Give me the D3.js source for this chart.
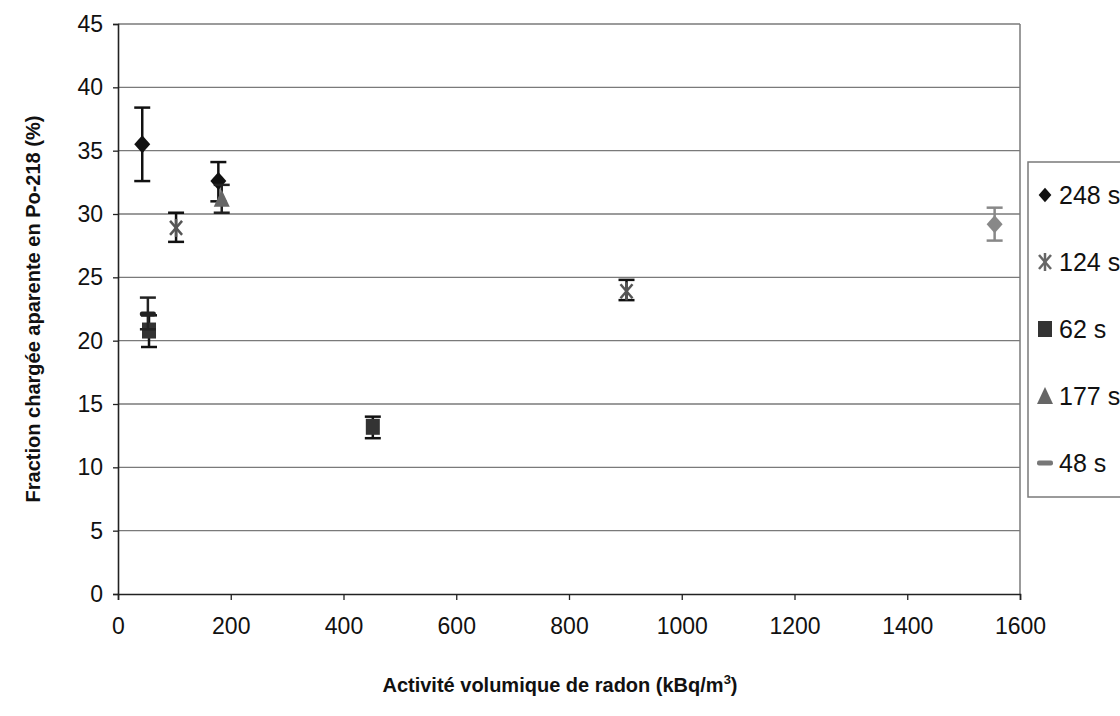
<!DOCTYPE html>
<html><head><meta charset="utf-8">
<script src="https://cdn.jsdelivr.net/npm/d3@7"></script>
<style>body{margin:0;background:#fff}svg{display:block}</style>
</head><body>
<svg id="c" width="1120" height="716"></svg>
<script>
const xTicks = [0,200,400,600,800,1000,1200,1400,1600];
const yTicks = [0,5,10,15,20,25,30,35,40,45];
const seriesNames = ["248 s","124 s","62 s","177 s","48 s"];
// each series: x, y, lower error, upper error
const s248_x = [43,178], s248_y = [35.5,32.6], s248_lo = [32.6,31.0], s248_hi = [38.4,34.1];
const s124_x = [103,902], s124_y = [28.9,23.9], s124_lo = [27.8,23.2], s124_hi = [30.1,24.8];
const s62_x = [55,452], s62_y = [20.8,13.2], s62_lo = [19.5,12.3], s62_hi = [22.0,14.0];
const s177_x = [184], s177_y = [31.2], s177_lo = [30.1], s177_hi = [32.3];
const s48_x = [53], s48_y = [22.1], s48_lo = [20.9], s48_hi = [23.4];
const sExtra_x = [1555], sExtra_y = [29.2], sExtra_lo = [27.9], sExtra_hi = [30.5];

const svg = d3.select("#c");
const x = d3.scaleLinear().domain([0,1600]).range([118,1020]);
const y = d3.scaleLinear().domain([0,45]).range([594,24]);
const font = "'Liberation Sans', Arial, sans-serif";

// gridlines
svg.append("g").selectAll("line").data(yTicks.filter(d=>d>0)).join("line")
  .attr("x1",x(0)).attr("x2",x(1600)).attr("y1",d=>y(d)).attr("y2",d=>y(d))
  .attr("stroke","#7a7a7a").attr("stroke-width",1.3);
// right border
svg.append("line").attr("x1",x(1600)).attr("x2",x(1600)).attr("y1",y(45)).attr("y2",y(0))
  .attr("stroke","#7a7a7a").attr("stroke-width",1.5);

// axes
const gy = svg.append("g").attr("transform",`translate(${x(0)},0)`)
  .call(d3.axisLeft(y).tickValues(yTicks).tickSize(5).tickPadding(10).tickFormat(d3.format("d")));
const gx = svg.append("g").attr("transform",`translate(0,${y(0)})`)
  .call(d3.axisBottom(x).tickValues(xTicks).tickSize(6).tickPadding(18).tickFormat(d3.format("d")));
[gy,gx].forEach(g=>{
  g.select(".domain").attr("stroke","#222").attr("stroke-width",1.6);
  g.selectAll(".tick line").attr("stroke","#222").attr("stroke-width",1.3);
  g.selectAll("text").attr("font-family",font).attr("font-size",23).attr("fill","#111");
});

// titles
svg.append("text").attr("transform","translate(40,309) rotate(-90)")
  .attr("text-anchor","middle").attr("font-family",font).attr("font-weight","bold")
  .attr("font-size",20).attr("fill","#111").text("Fraction chargée aparente en Po-218 (%)");
const xt = svg.append("text").attr("x",560).attr("y",692).attr("text-anchor","middle")
  .attr("font-family",font).attr("font-weight","bold").attr("font-size",20).attr("fill","#111");
xt.append("tspan").text("Activité volumique de radon (kBq/m");
xt.append("tspan").attr("font-size",13).attr("dy",-8).text("3");
xt.append("tspan").attr("dy",8).text(")");

// markers
function marker(g, type, color, k){
  k = k || 1;
  if(type==="diamond") g.append("path").attr("d",`M0,${-9*k}L${8*k},0L0,${9*k}L${-8*k},0Z`).attr("fill",color);
  else if(type==="square") g.append("rect").attr("x",-7).attr("y",-8).attr("width",14).attr("height",16).attr("fill",color);
  else if(type==="triangle") g.append("path").attr("d","M0,-9L8,8L-8,8Z").attr("fill",color);
  else if(type==="dash") g.append("rect").attr("x",-8).attr("y",-2.5).attr("width",16).attr("height",5).attr("rx",2).attr("fill",color);
  else if(type==="star"){
    [[-6,-7,6,7],[-6,7,6,-7],[0,-9,0,9]].forEach(l=>g.append("line").attr("x1",l[0]).attr("y1",l[1]).attr("x2",l[2]).attr("y2",l[3]).attr("stroke",color).attr("stroke-width",2.5));
  }
}
const series = [
  {xs:s248_x, ys:s248_y, lo:s248_lo, hi:s248_hi, type:"diamond", color:"#111", ec:"#111"},
  {xs:s124_x, ys:s124_y, lo:s124_lo, hi:s124_hi, type:"star", color:"#555", ec:"#111"},
  {xs:s62_x, ys:s62_y, lo:s62_lo, hi:s62_hi, type:"square", color:"#333", ec:"#111"},
  {xs:s177_x, ys:s177_y, lo:s177_lo, hi:s177_hi, type:"triangle", color:"#666", ec:"#222"},
  {xs:s48_x, ys:s48_y, lo:s48_lo, hi:s48_hi, type:"dash", color:"#222", ec:"#222"},
  {xs:sExtra_x, ys:sExtra_y, lo:sExtra_lo, hi:sExtra_hi, type:"diamond", color:"#888", ec:"#888"}
];
series.forEach(s=>{
  s.xs.forEach((xv,i)=>{
    const g = svg.append("g");
    const cx = x(xv);
    g.append("line").attr("x1",cx).attr("x2",cx).attr("y1",y(s.lo[i])).attr("y2",y(s.hi[i])).attr("stroke",s.ec).attr("stroke-width",2.5);
    [s.lo[i],s.hi[i]].forEach(v=>g.append("line").attr("x1",cx-8).attr("x2",cx+8).attr("y1",y(v)).attr("y2",y(v)).attr("stroke",s.ec).attr("stroke-width",2.5));
    const m = g.append("g").attr("transform",`translate(${cx},${y(s.ys[i])})`);
    marker(m, s.type, s.color, 1);
  });
});

// legend
const lg = svg.append("g");
lg.append("rect").attr("x",1028).attr("y",162).attr("width",110).attr("height",335)
  .attr("fill","#fff").attr("stroke","#7a7a7a").attr("stroke-width",1.5);
const legendColors = ["#111","#666","#333","#666","#777"];
seriesNames.forEach((n,i)=>{
  const yy = 195 + i*67;
  const m = lg.append("g").attr("transform",`translate(1045,${yy})`);
  marker(m, series[i].type, legendColors[i], 0.8);
  lg.append("text").attr("x",1059).attr("y",yy+9).attr("font-family",font).attr("font-size",25)
    .attr("fill","#111").text(n);
});
</script>
</body></html>
